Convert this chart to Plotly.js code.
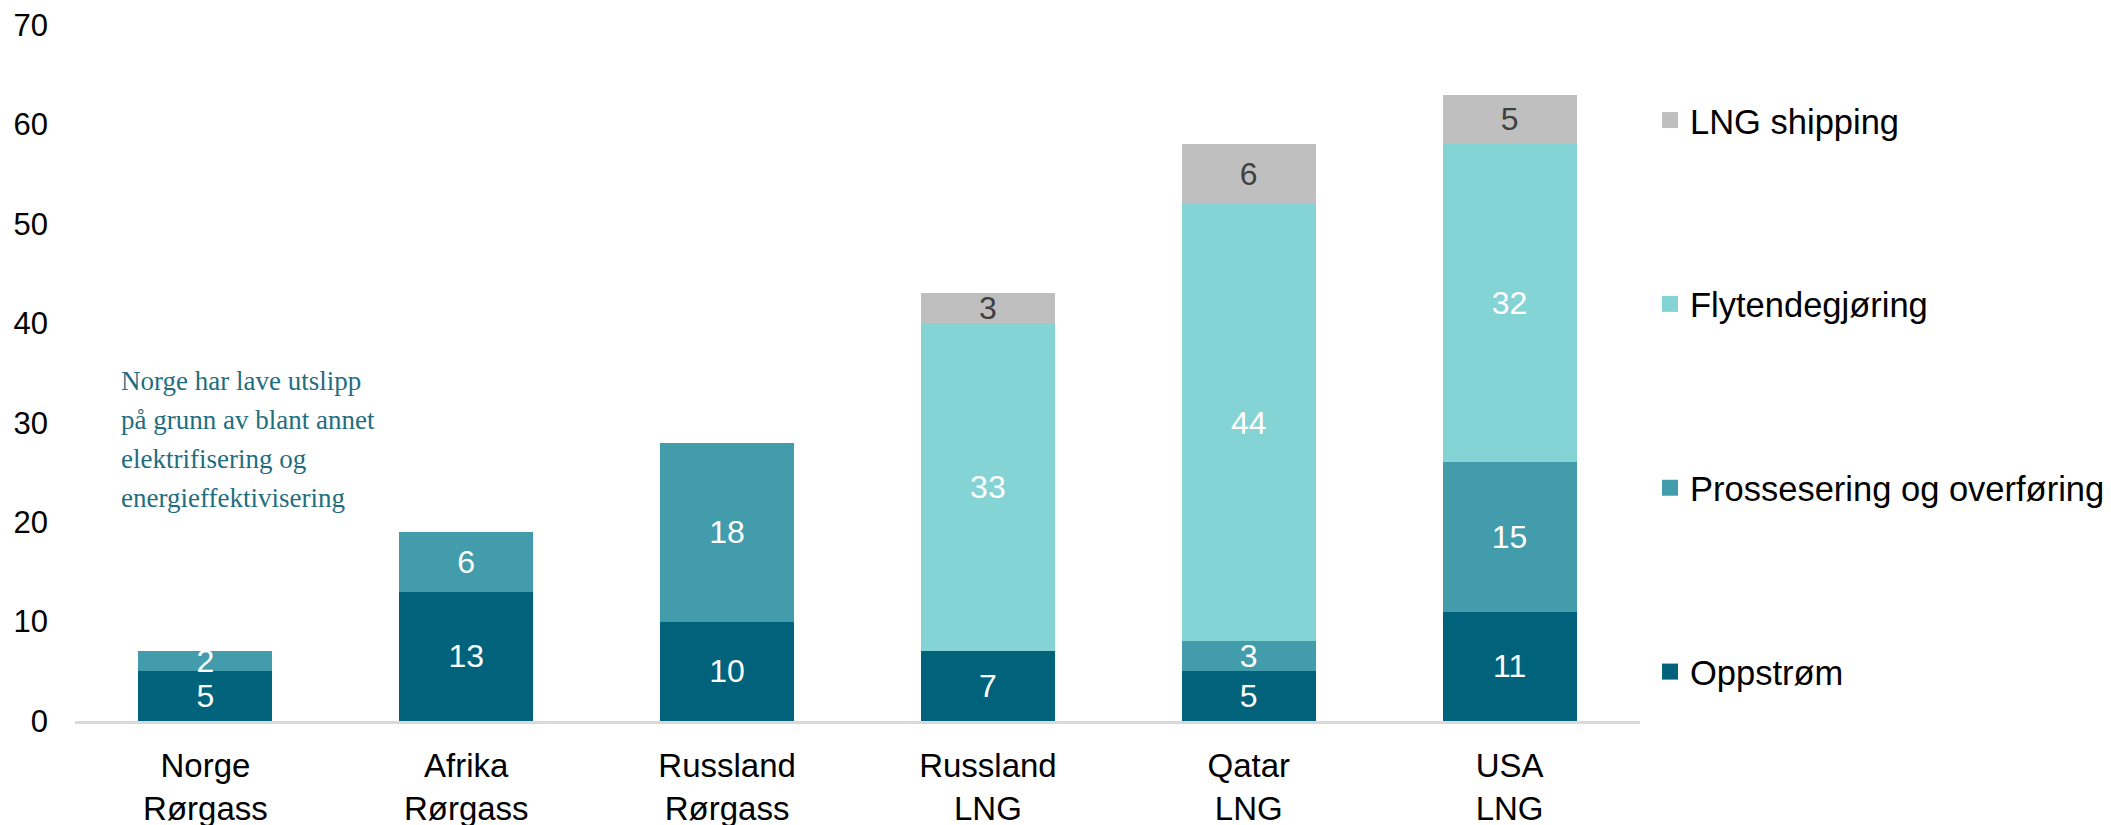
<!DOCTYPE html>
<html>
<head>
<meta charset="utf-8">
<script src="https://cdn.plot.ly/plotly-3.0.1.min.js"></script>
<style>
  html, body { margin: 0; padding: 0; background: #ffffff; }
  #chart { width: 2111px; height: 825px; }
</style>
</head>
<body>
<div id="chart"></div>
<script>
// ---- data ----
const categories = ['Norge Rørgass', 'Afrika Rørgass', 'Russland Rørgass', 'Russland LNG', 'Qatar LNG', 'USA LNG'];
const tickLabels = ['Norge<br>Rørgass', 'Afrika<br>Rørgass', 'Russland<br>Rørgass', 'Russland<br>LNG', 'Qatar<br>LNG', 'USA<br>LNG'];
const seriesNames = ['Oppstrøm', 'Prossesering og overføring', 'Flytendegjøring', 'LNG shipping'];
const oppstrom = [5, 13, 10, 7, 5, 11];
const prossesering = [2, 6, 18, null, 3, 15];
const flytendegjoring = [null, null, null, 33, 44, 32];
const lngShipping = [null, null, null, 3, 6, 5];
const noteLines = ['Norge har lave utslipp', 'på grunn av blant annet', 'elektrifisering og', 'energieffektivisering'];
const yTicks = [0, 10, 20, 30, 40, 50, 60, 70];

// ---- styles ----
const colors = ['#00627b', '#439cab', '#84d3d5', '#bfbfbf'];
const labelColors = ['#ffffff', '#ffffff', '#ffffff', '#404040'];
const seriesValues = [oppstrom, prossesering, flytendegjoring, lngShipping];
const FONT = 'Liberation Sans, Arial, sans-serif';

const traces = [];
seriesValues.forEach((vals, i) => {
  traces.push({
    type: 'bar',
    name: seriesNames[i],
    x: categories,
    y: vals,
    text: vals.map(v => (v === null ? '' : String(v))),
    textposition: 'inside',
    insidetextanchor: 'middle',
    constraintext: 'none',
    textangle: 0,
    textfont: { family: FONT, size: 32, color: labelColors[i] },
    marker: { color: colors[i], line: { width: 0 } },
    showlegend: false,
    hoverinfo: 'x+y+name'
  });
});
// legend-only entries with larger square swatches (top entry = top of stack)
for (let i = seriesValues.length - 1; i >= 0; i--) {
  traces.push({
    type: 'scatter',
    mode: 'markers',
    name: seriesNames[i],
    x: [null],
    y: [null],
    legendgroup: 'g' + i,
    marker: { symbol: 'square', size: 16, color: colors[i] },
    showlegend: true,
    hoverinfo: 'skip'
  });
}

const annotations = noteLines.map((t, k) => ({
  xref: 'paper', yref: 'paper',
  x: 0.028, y: 0.488 - k * 0.056,
  xanchor: 'left', yanchor: 'middle',
  text: t, showarrow: false,
  font: { family: 'Liberation Serif, Times New Roman, serif', size: 27, color: '#1f6e80' }
}));

const layout = {
  width: 2111, height: 825,
  margin: { l: 75, r: 471, t: 25, b: 104, pad: 0, autoexpand: false },
  paper_bgcolor: '#ffffff', plot_bgcolor: '#ffffff',
  barmode: 'stack',
  bargap: 0.486,
  font: { family: FONT, size: 30, color: '#000000' },
  xaxis: {
    type: 'category',
    tickmode: 'array',
    tickvals: categories,
    ticktext: tickLabels,
    tickfont: { family: FONT, size: 33, color: '#000000' },
    showline: true, linecolor: '#d9d9d9', linewidth: 3,
    ticks: '', showgrid: false, zeroline: false,
    ticklabelstandoff: 13,
    fixedrange: true
  },
  yaxis: {
    range: [0, 70],
    tickmode: 'array',
    tickvals: yTicks,
    tickfont: { family: FONT, size: 31, color: '#000000' },
    showline: false, showgrid: false, zeroline: false,
    ticks: '',
    ticklabelstandoff: 26,
    fixedrange: true
  },
  legend: {
    x: 1.0064, xanchor: 'left',
    y: 0.905, yanchor: 'top',
    traceorder: 'grouped',
    tracegroupgap: 136,
    font: { family: FONT, size: 34.5, color: '#000000' },
    bgcolor: 'rgba(0,0,0,0)',
    itemsizing: 'trace'
  },
  annotations: annotations,
  showlegend: true
};

Plotly.newPlot('chart', traces, layout, { staticPlot: true, displayModeBar: false });
</script>
</body>
</html>
